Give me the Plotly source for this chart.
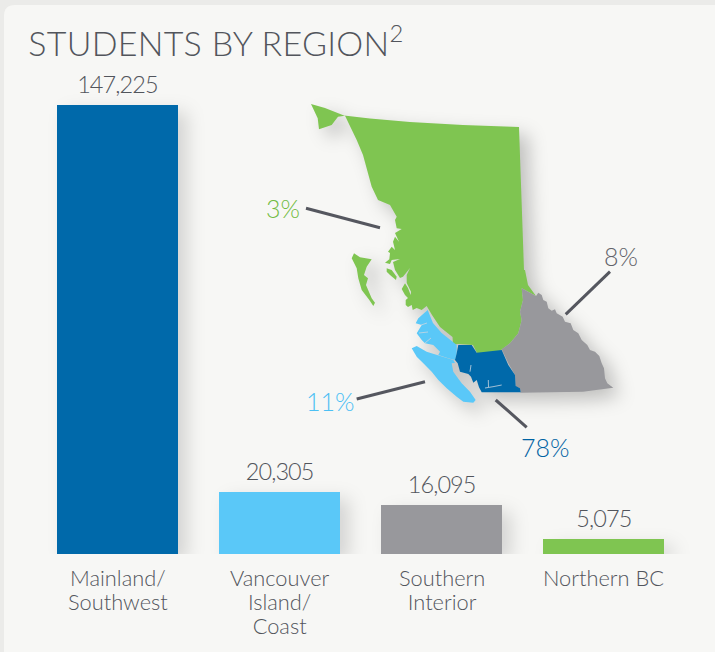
import plotly.graph_objects as go

# ---- data ----
categories = ["Mainland/ Southwest", "Vancouver Island/ Coast", "Southern Interior", "Northern BC"]
category_labels = ["Mainland/<br>Southwest", "Vancouver<br>Island/<br>Coast", "Southern<br>Interior", "Northern BC"]
students = [147225, 20305, 16095, 5075]
bar_colors = ["#0069AA", "#5AC8F8", "#98989C", "#7FC551"]
title_text = "STUDENTS BY REGION<sup>2</sup>"
shares = ["3%", "8%", "11%", "78%"]
share_colors = ["#72BC42", "#62636A", "#4CC0F4", "#0063A3"]

north_x = [311,325,344,370,410,463,519,521.5,524,525,528,536,528,521.7,523,520,521.7,518.3,510,501.7,497,477,473,458,453,452.5,440,432,428,426.7,421.7,416.7,412.7,411.7,408,405.7,405.7,408,405,401.7,405,408,410.7,411,406.7,406.7,410,403,400,395,393,400,391.7,390,385,389.3,390,388,391.7,395,393,395,399,395,401.7,396.7,395,396.7,390,378,371.7,363,356.7,348,345,338,331.7,319,317.7]
north_y = [104,108,115.5,118.5,122,125,127,190,270,270,285,296,291.7,288.3,300,311.7,320,333.3,343.3,349.3,353,353,345,344,345,337,327,315,309,306,310,308,310,305,307,305,300,298,295,289,283.3,288,295,291.7,283,275,268,276.7,278,270,262,259,260,264,262.7,259.3,253,251.7,246.7,250,241.7,236.7,241.7,233,229,228.3,220,216.7,205,200,186.7,155,140,121.7,115.7,116.7,125,129.3,118.3]
islet_x = [386.7,391.7,396.7,396,390,386.7]
islet_y = [268.3,270,276.7,280,275,271.7]
haida_x = [354,360,371.7,366.7,364,368,366,371.7,375,373.3,369.3,361.7,358.3,356.7,351.7]
haida_y = [253.3,257.3,259.3,266.7,275,278.3,285,298.3,302.7,306,300,290,278.3,268.3,258.3]
coast_x = [427.7,433,441.7,453.3,456.7,456.7,455,448.3,438.3,440,433.3,425,421.7,416.7,421.7,415.7,418.3]
coast_y = [310,323,333,341.7,345,353.3,360,358.3,355,351.7,345,343.3,340,333.3,325,323.3,318.3]
island_x = [411.7,416.7,426.7,443.3,453.3,455,451.7,453.3,461.7,470,475.7,473.3,463.3,456.7,446.7,438.3,431.7,423.3,416.7]
island_y = [348.3,346,351.7,357.3,360,363,363.3,371.7,383.3,391.7,400,402.7,401.7,396.7,388.3,380,371.7,363.3,356.7]
mainland_x = [458.3,471.7,476.7,501.7,508.3,515,515.7,520,520.7,481.7,479,476.7,473.3,471,468.3,460,457.7,455,456.7]
mainland_y = [345,345,352.7,350,365,375,386,388.3,392.3,392.3,387.3,380,382.7,376.7,374,371.7,363.3,360,353.3]
interior_x = [521.7,528,536,538.3,541.7,543.3,546.7,548.3,551.7,555,556.7,562.7,565,570.7,573.3,578.3,581.7,587.3,590,595,599.3,601.7,604,605,607.3,613.3,583,520.5,520,515.7,515,508.3,501.7,510,518.3,521.7,520,523]
interior_y = [288.3,291.7,296,292.7,295,300,301.7,308.3,310.7,309.3,313.3,316.7,321.7,323.3,330,333.3,340,345,350,351.7,356,363.3,368.3,378.3,383.3,387.7,391.7,392.7,388.3,386.7,375,363.3,349.3,343.3,333.3,320,311.7,300]
regions = [
    (north_x, north_y, "#7FC551"), (islet_x, islet_y, "#7FC551"), (haida_x, haida_y, "#7FC551"),
    (coast_x, coast_y, "#5AC8F8"), (island_x, island_y, "#5AC8F8"),
    (interior_x, interior_y, "#98989C"), (mainland_x, mainland_y, "#0069AA"),
]
inlets = [
    ([485, 493, 501.7], [388, 386.7, 385]),
    ([488.3, 488.5], [380, 387]),
    ([471, 470], [365, 371.7]),
    ([421, 427], [325, 323]),
    ([419, 428], [333, 332]),
    ([425, 431], [343, 338]),
]
leader_from_x = [306,610,356.7,495.7]
leader_from_y = [208.3,271.7,399,400]
leader_to_x = [380,565.7,425,526.7]
leader_to_y = [227.7,314.3,381.7,427.3]
share_x = [283,621,330,545]
share_y = [208,256,401,447]

W, H = 715, 652
TEXT = "#52555C"
FONT = "Lato"

fig = go.Figure()
fig.add_trace(go.Bar(
    x=categories, y=students, marker=dict(color=bar_colors, line_width=0), width=121/162,
    cliponaxis=False, showlegend=False, hoverinfo="skip", xaxis="x", yaxis="y",
))
for rx, ry, col in regions:
    fig.add_trace(go.Scatter(
        x=rx + rx[:1], y=ry + ry[:1], mode="lines", fill="toself", fillcolor=col,
        line=dict(width=0, color=col), showlegend=False, hoverinfo="skip", xaxis="x2", yaxis="y2",
    ))

shapes = [dict(
    type="path", xref="paper", yref="paper", layer="below", line_width=0, fillcolor="#F7F7F5",
    path=(f"M {4/W} 0 L {4/W} {1-16/H} Q {4/W} {1-5/H} {15/W} {1-5/H} L 1 {1-5/H} L 1 0 Z"),
)]
for a, b, c, d in zip(leader_from_x, leader_from_y, leader_to_x, leader_to_y):
    shapes.append(dict(type="line", xref="x2", yref="y2", x0=a, y0=b, x1=c, y1=d, layer="above",
                       line=dict(color="#55575F", width=3)))
for ix, iy in inlets:
    shapes.append(dict(type="path", xref="x2", yref="y2", layer="above", line=dict(color="#C9D6DF", width=0.8),
                       path="M " + " L ".join(f"{a} {b}" for a, b in zip(ix, iy))))

annotations = [dict(
    text=title_text, xref="x2", yref="y2", x=29, y=41, xanchor="left", yanchor="middle", showarrow=False,
    font=dict(size=34, color=TEXT, family=FONT, weight=300),
)]
for t, c, a, b in zip(shares, share_colors, share_x, share_y):
    annotations.append(dict(text=t, xref="x2", yref="y2", x=a, y=b, showarrow=False,
                            font=dict(size=25, color=c, family=FONT, weight=300)))
for cat, val, label in zip(categories, students, category_labels):
    annotations.append(dict(text=f"{val:,}", xref="x", yref="y", x=cat, y=val, yanchor="middle", yshift=21,
                            showarrow=False, font=dict(size=23.5, color=TEXT, family=FONT, weight=300)))
    annotations.append(dict(text=label, xref="x", yref="y", x=cat, y=0, yanchor="top", yshift=-8, align="center",
                            showarrow=False, font=dict(size=21.8, color=TEXT, family=FONT, weight=300)))

fig.update_layout(
    width=W, height=H, autosize=False, margin=dict(l=0, r=0, t=0, b=0),
    paper_bgcolor="#EBEBE9", plot_bgcolor="rgba(0,0,0,0)", bargap=0,
    shapes=shapes, annotations=annotations,
    font=dict(family=FONT, color=TEXT),
    xaxis=dict(domain=[0, 1], type="category", range=[-117.5/162, (W-117.5)/162], categoryorder="array",
               categoryarray=categories, showgrid=False, zeroline=False, showline=False, ticks="",
               showticklabels=False, anchor="y", fixedrange=True),
    yaxis=dict(domain=[(H-554)/H, 1], range=[0, 147225*554/449], visible=False, anchor="x", fixedrange=True),
    xaxis2=dict(domain=[0, 1], range=[0, W], visible=False, anchor="y2", fixedrange=True),
    yaxis2=dict(domain=[0, 1], range=[H, 0], visible=False, anchor="x2", fixedrange=True),
)

post = """
document.documentElement.style.margin='0';
document.body.style.margin='0';
document.body.style.background='#EBEBE9';
var gd = document.querySelector('.js-plotly-plot');
gd.querySelectorAll('.barlayer .point path').forEach(function(p){p.style.filter='drop-shadow(9px 7px 9px rgba(0,0,0,.14))';});
gd.querySelectorAll('.scatterlayer').forEach(function(p){p.style.filter='drop-shadow(9px 8px 9px rgba(0,0,0,.22))';});
gd.querySelectorAll('.annotation-text').forEach(function(t){
  var s=t.textContent;
  if(s.indexOf('STUDENTS')===0){t.style.letterSpacing='0.3px';}
  else if(/^[0-9]+,[0-9]+$/.test(s)){t.style.letterSpacing='-0.9px';}
  t.querySelectorAll('tspan.line').forEach(function(l,i){ if(i>0){l.setAttribute('dy',(i*1.1)+'em');}});
});
"""
fig.write_html("out.html", post_script=post, config=dict(displayModeBar=False))
